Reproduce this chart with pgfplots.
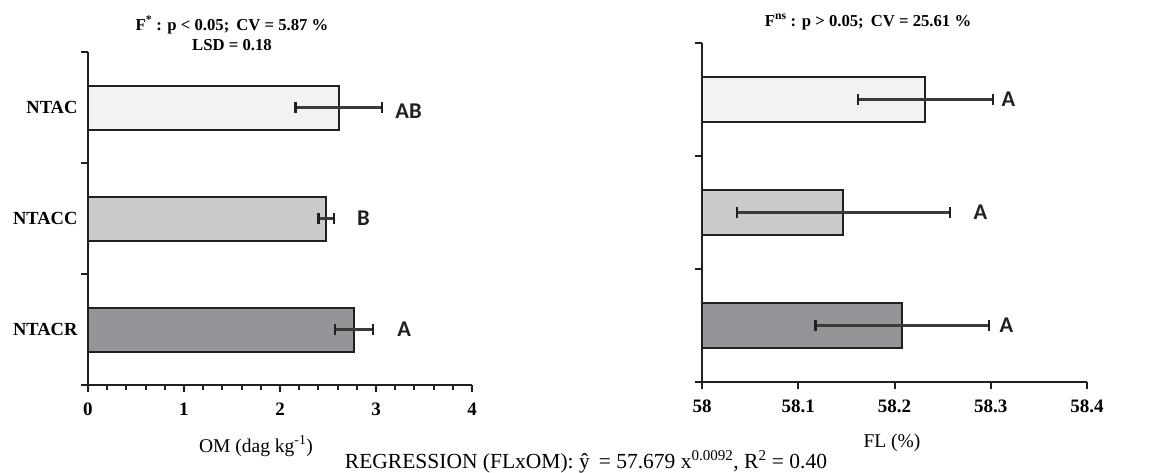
\documentclass[border=0pt]{standalone}
\usepackage{fontspec}
\setmainfont{Liberation Serif}
\newfontfamily\letterfont{Carlito}
\usepackage{pgfplots}
\pgfplotsset{compat=1.18}
\definecolor{barL}{HTML}{F1F2F4}
\definecolor{barM}{HTML}{C9CACC}
\definecolor{barD}{HTML}{949598}
\definecolor{edge}{HTML}{231F20}
\definecolor{errc}{HTML}{3A3A3A}
\tikzset{letter/.style={anchor=west, inner sep=0pt, font=\letterfont\bfseries\fontsize{22.5}{26}\selectfont, text=edge}}
\pgfplotsset{
  common/.style={
    scale only axis,
    axis x line*=bottom, axis y line*=left,
    axis line style={line width=2.2pt, edge},
    xbar, bar shift=0pt,
    ymin=-0.5, ymax=2.5,
    ytick={-0.5,0.5,1.5,2.5}, yticklabels={},
    tick align=outside, major tick length=7pt, minor tick length=5pt,
    every tick/.style={line width=2pt, edge},
    xticklabel style={font=\fontsize{19}{22}\selectfont\bfseries, yshift=-7pt},
    clip=false,
  },
  errstyle/.style={error bars/.cd, x dir=both, x explicit, error mark=|,
    error bar style={line width=2.1pt, draw=errc},
    error mark options={line width=2.3pt, draw=edge, mark size=5.5pt}},
}
\begin{document}
\begin{tikzpicture}
\useasboundingbox (0,0) rectangle (1162pt,-473pt);
% ---------- left panel: OM ----------
\begin{axis}[common,
  at={(88pt,-385pt)}, anchor=south west,
  width=384pt, height=333pt,
  xmin=0, xmax=4, xtick={0,1,2,3,4}, xticklabels={0,1,2,3,4},
  minor x tick num=4,
  extra y ticks={0,1,2}, extra y tick labels={NTACR,NTACC,NTAC},
  extra y tick style={major tick length=0pt,
    yticklabel style={font=\fontsize{18.5}{22}\selectfont\bfseries, xshift=-7pt}},
]
\addplot[fill=barL, draw=edge, line width=2pt, bar width=44pt, errstyle]
  coordinates {(2.61,2) +- (0.45,0)};
\addplot[fill=barM, draw=edge, line width=2pt, bar width=44pt, errstyle]
  coordinates {(2.48,1) +- (0.08,0)};
\addplot[fill=barD, draw=edge, line width=2pt, bar width=44pt, errstyle]
  coordinates {(2.77,0) +- (0.20,0)};
\node[letter] at (axis cs:3.20,1.97) {AB};
\node[letter] at (axis cs:2.80,1.0) {B};
\node[letter] at (axis cs:3.22,0.0) {A};
\end{axis}
% ---------- right panel: FL ----------
\begin{axis}[common,
  at={(702pt,-382pt)}, anchor=south west,
  width=385pt, height=339pt,
  x coord trafo/.code={\pgfmathparse{#1-58}},
  x coord inv trafo/.code={\pgfmathparse{#1+58}},
  xmin=58, xmax=58.4, xtick={58,58.1,58.2,58.3,58.4},
  xticklabels={58,58.1,58.2,58.3,58.4},
]
\addplot[fill=barL, draw=edge, line width=2pt, bar width=45pt, errstyle]
  coordinates {(58.232,2) +- (0.070,0)};
\addplot[fill=barM, draw=edge, line width=2pt, bar width=45pt, errstyle]
  coordinates {(58.147,1) +- (0.111,0)};
\addplot[fill=barD, draw=edge, line width=2pt, bar width=45pt, errstyle]
  coordinates {(58.208,0) +- (0.090,0)};
\node[letter] at (axis cs:58.311,2) {A};
\node[letter] at (axis cs:58.282,1) {A};
\node[letter] at (axis cs:58.309,0) {A};
\end{axis}
% ---------- texts ----------
\node[font=\fontsize{16.7}{19}\selectfont\bfseries] at (232pt,-25pt) {F\textsuperscript{*} : p < 0.05;\, CV = 5.87 \%};
\node[font=\fontsize{16.7}{19}\selectfont\bfseries] at (232pt,-45pt) {LSD = 0.18};
\node[font=\fontsize{16.7}{19}\selectfont\bfseries] at (868pt,-22pt) {F\textsuperscript{ns} : p > 0.05;\, CV = 25.61 \%};
\node[font=\fontsize{19.5}{22}\selectfont] at (256pt,-446pt) {OM (dag kg\textsuperscript{-1})};
\node[font=\fontsize{19.5}{22}\selectfont] at (892pt,-443pt) {FL (\%)};
\node[font=\fontsize{21.5}{24}\selectfont] at (586pt,-462pt) {REGRESSION (FLxOM): ŷ\, = 57.679 x\textsuperscript{0.0092}, R\textsuperscript{2} = 0.40};
\end{tikzpicture}
\end{document}
